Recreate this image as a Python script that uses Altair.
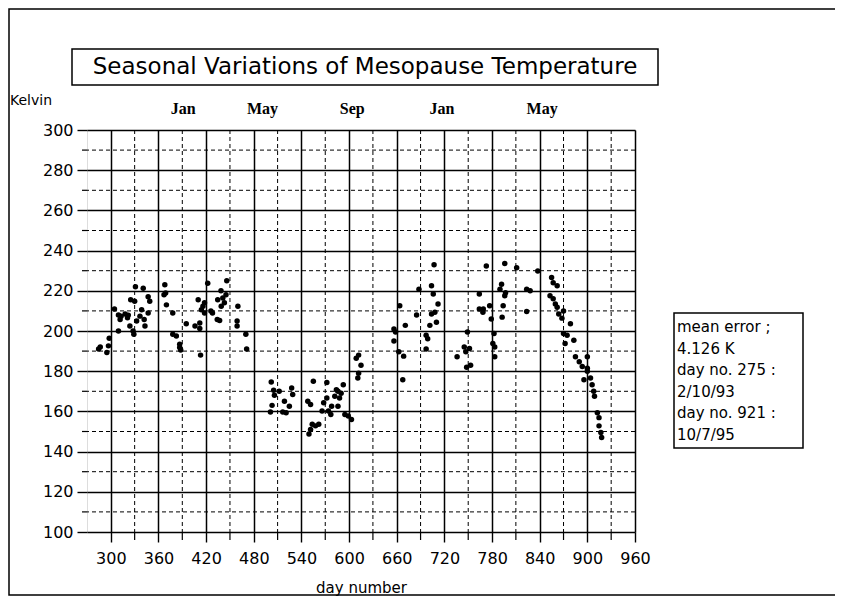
import altair as alt
import pandas as pd

# ---- data ----
days = [284.6, 286.7, 295, 297, 298, 304.6, 309.6, 311.7, 312.9, 309.6, 318, 322, 321, 325, 330, 331,
        324, 328, 329, 332.5, 336.7, 340.8, 338.8, 342, 343, 347, 349, 347, 368, 369, 367, 370, 378,
        378, 382.5, 386.7, 388, 386.7, 395, 406, 412, 412, 410, 414, 418, 416, 418, 413, 422, 426,
        428, 434, 437, 434.6, 438.7, 441, 445, 446, 439, 443, 460, 459, 459, 470, 471,
        502, 505, 506, 503, 501,
        512, 518.6, 516.5, 520.7, 524.8, 527.7, 529, 548, 551.5, 555, 572, 553.6, 551.5, 549.5,
        557.7, 561.8, 566, 568, 572, 574, 577, 578, 582, 584, 586, 590, 592.7, 588, 594.7, 599, 603,
        586, 609, 612, 615, 612, 611, 656.5, 658.5, 656.5, 662.6, 668.7, 663.8, 670.8, 667.6, 685,
        688, 697, 699, 697, 701.7, 703.8, 706, 708, 710, 703.8, 707, 712, 736, 745, 747, 748, 749,
        751.6, 753, 764, 764, 768.5, 769, 772.8, 777, 779, 782.5, 781, 783.4, 783.4, 792, 790, 796,
        797, 794, 792.7, 796, 811, 823.6, 828, 823.6, 837.6, 855, 857, 862, 853, 857, 859.7, 862,
        870, 868, 864, 878.7, 870, 874.5, 883, 872, 885, 889.8, 893.6, 900, 900, 904, 895.7, 906,
        908, 909, 900, 912.6, 914.7, 914.7, 917, 918]
temps = [191, 192, 189.3, 192.6, 196.4, 211, 208, 205.7, 207.4, 200, 208.5, 207.9, 206.6, 215.6, 214.8, 222,
         202.5, 200, 198.4, 205, 207.4, 221.3, 210.6, 205.7, 202.5, 217, 214.8, 209, 223, 218.9, 218, 213, 209,
         198.4, 197.5, 193.4, 190.5, 191.8, 203.6, 202.5, 204, 201.3, 215.6, 210.6, 214, 212.3, 209, 188, 223.8, 210,
         209, 205.7, 205.2, 215.6, 220, 216.4, 218, 225, 212.3, 214, 212.3, 205, 202.5, 198.4, 191,
         174.6, 170.5, 168, 163, 159.7,
         170, 165, 159.7, 159.3, 162.6, 171.6, 168.4, 165, 163.4, 175, 174.4, 153.6, 151, 148.7,
         152.8, 153.6, 160.2, 164.3, 166.7, 160.2, 158.5, 162.6, 167.5, 170.8, 170, 169, 173.3, 166.7, 158.5, 157.7, 156,
         162.6, 186.4, 188, 183, 179, 176.6, 201, 199.5, 195, 189.7, 187.5, 212.6, 202.8, 175.7, 208,
         220.8, 197.9, 196.2, 191, 202.8, 208.5, 218.4, 209.3, 204.4, 222.5, 233, 213.4, 187.2, 192, 189.7, 182, 199.5,
         191.3, 183, 218.4, 211, 209.3, 211, 232.3, 212.6, 206, 198.7, 193.8, 192, 187.2, 223.3, 220.8, 217.5,
         219, 212.6, 206.9, 233.6, 231.5, 220.8, 220, 209.7, 229.8, 226.6, 224, 222.5, 217.5, 216, 213.4, 211.8,
         210, 206.4, 208.5, 203.6, 198.7, 197.9, 195.4, 193.8, 187.2, 184.7, 182.3, 187.2, 181.5, 176.6, 175.7, 173.3,
         170, 167.5, 180, 159.3, 156.9, 152.8, 149.5, 147]

x_ticks = list(range(300, 961, 60))
x_minor = list(range(330, 960, 60))
y_ticks = list(range(100, 301, 20))
y_minor = list(range(110, 300, 20))

month_names = ["Jan", "May", "Sep", "Jan", "May"]
month_days = [391, 491, 604, 717, 843]

title_text = "Seasonal Variations of Mesopause Temperature"
info_lines = ["mean error ;", "4.126 K", "day no. 275 :", "2/10/93", "day no. 921 :", "10/7/95"]

W, H = 548, 402
FONT = "DejaVu Sans"

pts = pd.DataFrame({"day": days, "temp": temps})
xs = alt.Scale(domain=[270, 960], nice=False, zero=False)
ys = alt.Scale(domain=[100, 300], nice=False, zero=False)

xaxis = alt.Axis(values=x_ticks, title="day number", labelFont=FONT, labelFontSize=16,
                 labelColor="black", tickSize=10, tickColor="black", tickWidth=1.4,
                 labelPadding=8, domain=False, grid=True, gridColor="black", gridWidth=1.5,
                 gridOpacity=1, titleFont=FONT, titleFontSize=15, titleFontWeight="normal",
                 titleColor="black", titlePadding=14, labelFlush=False)
yaxis = alt.Axis(values=y_ticks, title=None, labelFont=FONT, labelFontSize=16,
                 labelColor="black", tickSize=10, tickColor="black", tickWidth=1.4,
                 labelPadding=4, domain=False, grid=True, gridColor="black", gridWidth=1.5,
                 gridOpacity=1, labelFlush=False)

points = alt.Chart(pts).mark_circle(size=30, color="black", opacity=1).encode(
    x=alt.X("day:Q", scale=xs, axis=xaxis),
    y=alt.Y("temp:Q", scale=ys, axis=yaxis),
)

vdash = alt.Chart(pd.DataFrame({"d": x_minor})).mark_rule(
    color="black", strokeWidth=1, strokeDash=[4, 3]).encode(x=alt.X("d:Q", scale=xs))
hdash = alt.Chart(pd.DataFrame({"t": y_minor})).mark_rule(
    color="black", strokeWidth=1, strokeDash=[4, 3]).encode(y=alt.Y("t:Q", scale=ys))
xminor_ticks = alt.Chart(pd.DataFrame({"d": x_minor})).mark_rule(
    color="black", strokeWidth=1.2).encode(x=alt.X("d:Q", scale=xs), y=alt.value(H), y2=alt.value(H + 8))
yminor_ticks = alt.Chart(pd.DataFrame({"t": y_minor})).mark_rule(
    color="black", strokeWidth=1.2).encode(y=alt.Y("t:Q", scale=ys), x=alt.value(-5), x2=alt.value(0))

months = alt.Chart(pd.DataFrame({"m": month_names, "d": month_days})).mark_text(
    font="Liberation Serif", fontWeight="bold", fontSize=16, color="black",
    baseline="middle", align="center").encode(
    x=alt.X("d:Q", scale=xs), y=alt.value(-21), text="m:N")

one = pd.DataFrame({"k": [0]})
title_box = alt.Chart(one).mark_rect(fill="white", stroke="black", strokeWidth=1.5).encode(
    x=alt.value(-15), x2=alt.value(571), y=alt.value(-81), y2=alt.value(-45))
title = alt.Chart(one).mark_text(font=FONT, fontSize=23, color="black", align="center",
                                 baseline="middle", text=title_text).encode(
    x=alt.value(278), y=alt.value(-63))
kelvin = alt.Chart(one).mark_text(font=FONT, fontSize=14, color="black", align="left",
                                  baseline="middle", text="Kelvin").encode(
    x=alt.value(-77), y=alt.value(-29))
info_box = alt.Chart(one).mark_rect(fill="white", stroke="black", strokeWidth=1.5).encode(
    x=alt.value(587), x2=alt.value(716), y=alt.value(183), y2=alt.value(318))
info = alt.Chart(one).mark_text(font=FONT, fontSize=15, color="black", align="left",
                                baseline="alphabetic", lineBreak="\n", lineHeight=21.5,
                                text="\n".join(info_lines)).encode(
    x=alt.value(590), y=alt.value(202))
frame = alt.Chart(one).mark_rect(fill=None, stroke="black", strokeWidth=1.5).encode(
    x=alt.value(-78), x2=alt.value(749), y=alt.value(-121), y2=alt.value(465))

chart = alt.layer(
    vdash, hdash, xminor_ticks, yminor_ticks, points, months,
    title_box, title, kelvin, info_box, info, frame
).properties(
    width=W, height=H,
    autosize=alt.AutoSizeParams(type="none"),
    padding={"left": 79, "top": 122, "right": 200, "bottom": 66},
).configure_view(stroke="black", strokeWidth=1.5).configure(background="white")

chart.save("out.html", embed_options={"renderer": "svg", "actions": False})
